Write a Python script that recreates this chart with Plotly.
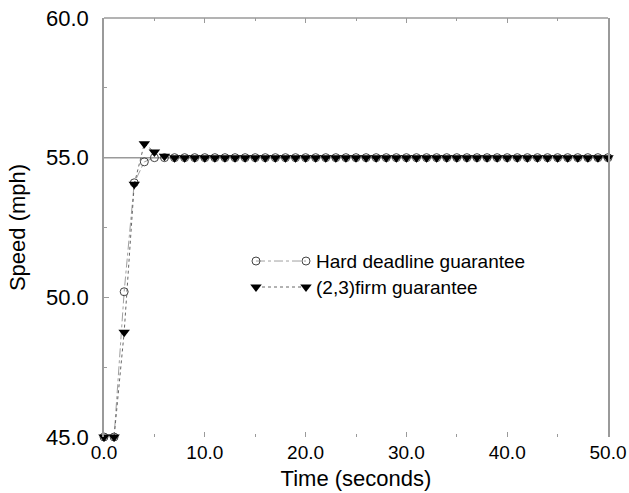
import plotly.graph_objects as go

# ---- data ----
time_s = [0, 1, 2, 3, 4, 5, 6, 7, 8, 9, 10, 11, 12, 13, 14, 15, 16, 17, 18, 19, 20,
          21, 22, 23, 24, 25, 26, 27, 28, 29, 30, 31, 32, 33, 34, 35, 36, 37, 38, 39, 40,
          41, 42, 43, 44, 45, 46, 47, 48, 49, 50]
hard_deadline = [45.0, 45.0, 50.2, 54.1, 54.85, 55.0, 55.0, 55.0, 55.0, 55.0, 55.0,
                 55.0, 55.0, 55.0, 55.0, 55.0, 55.0, 55.0, 55.0, 55.0, 55.0,
                 55.0, 55.0, 55.0, 55.0, 55.0, 55.0, 55.0, 55.0, 55.0, 55.0,
                 55.0, 55.0, 55.0, 55.0, 55.0, 55.0, 55.0, 55.0, 55.0, 55.0,
                 55.0, 55.0, 55.0, 55.0, 55.0, 55.0, 55.0, 55.0, 55.0, 55.0]
firm_23 = [45.0, 45.0, 48.75, 54.05, 55.5, 55.2, 55.05, 55.0, 55.0, 55.0, 55.0,
           55.0, 55.0, 55.0, 55.0, 55.0, 55.0, 55.0, 55.0, 55.0, 55.0,
           55.0, 55.0, 55.0, 55.0, 55.0, 55.0, 55.0, 55.0, 55.0, 55.0,
           55.0, 55.0, 55.0, 55.0, 55.0, 55.0, 55.0, 55.0, 55.0, 55.0,
           55.0, 55.0, 55.0, 55.0, 55.0, 55.0, 55.0, 55.0, 55.0, 55.0]
series_names = ["Hard deadline guarantee", "(2,3)firm guarantee"]
x_ticks = [0, 10, 20, 30, 40, 50]
y_ticks = [45, 50, 55, 60]
reference_speed = 55.0

FONT = "Liberation Sans, Arial, Helvetica, sans-serif"
AX = "#9a9a9a"

circle_marker = dict(symbol="circle-open", size=8, color="#444444", line=dict(width=1, color="#444444"))
tri_marker = dict(symbol="triangle-down", size=10, color="black", line=dict(width=0))
hard_line = dict(color="#a0a0a0", width=1, dash="dashdot")
firm_line = dict(color="#666666", width=1, dash="dot")

fig = go.Figure()
fig.add_trace(go.Scatter(x=time_s, y=hard_deadline, mode="lines+markers", name=series_names[0],
                         line=hard_line, marker=circle_marker, cliponaxis=False, showlegend=False))
fig.add_trace(go.Scatter(x=time_s, y=firm_23, mode="lines+markers", name=series_names[1],
                         line=firm_line, marker=tri_marker, cliponaxis=False, showlegend=False))

# custom legend drawn on an overlay axis spanning the plot area (0..1)
leg_x = [0.3016, 0.4008]
leg_y = [0.42, 0.358]
leg_text_x = 0.417
fig.add_trace(go.Scatter(x=leg_x, y=[leg_y[0]] * 2, xaxis="x2", yaxis="y2", mode="lines+markers",
                         line=hard_line, marker=circle_marker, showlegend=False, hoverinfo="skip"))
fig.add_trace(go.Scatter(x=leg_x, y=[leg_y[1]] * 2, xaxis="x2", yaxis="y2", mode="lines+markers",
                         line=firm_line, marker=tri_marker, showlegend=False, hoverinfo="skip"))
for name, yy in zip(series_names, leg_y):
    fig.add_annotation(x=leg_text_x, y=yy, xref="x2", yref="y2", text=name, showarrow=False,
                       xanchor="left", yanchor="middle", font=dict(family=FONT, size=19, color="black"))

# reference line at 55 and top frame line
fig.add_shape(type="line", xref="paper", yref="y", x0=0, x1=1, y0=reference_speed, y1=reference_speed,
              line=dict(color=AX, width=1.5), layer="below")
fig.add_shape(type="line", xref="paper", yref="paper", x0=0, x1=1, y0=1, y1=1,
              line=dict(color=AX, width=1.5))

fig.update_layout(
    width=629, height=493,
    margin=dict(l=104, r=21, t=18, b=56, autoexpand=False),
    paper_bgcolor="white", plot_bgcolor="white",
    font=dict(family=FONT, size=19, color="black"),
    xaxis=dict(range=[0, 50], tickvals=x_ticks, ticktext=[f"{v:.1f}" for v in x_ticks],
               showgrid=False, zeroline=False, showline=False, mirror="ticks",
               ticks="inside", ticklen=5, tickcolor=AX, tickwidth=1,
               tickfont=dict(size=19), ticklabelstandoff=2,
               minor=dict(dtick=5, ticks="inside", ticklen=3, tickcolor=AX, showgrid=False),
               title=dict(text="Time (seconds)", font=dict(size=22), standoff=8)),
    yaxis=dict(range=[45, 60], tickvals=y_ticks, ticktext=[f"{v:.1f}" for v in y_ticks],
               showgrid=False, zeroline=False, showline=True, linecolor=AX, linewidth=1.5, mirror=True,
               ticks="inside", ticklen=5, tickcolor=AX, tickwidth=1,
               tickfont=dict(size=22), ticklabelstandoff=9,
               minor=dict(dtick=2.5, ticks="inside", ticklen=3, tickcolor=AX, showgrid=False),
               title=dict(text="Speed (mph)", font=dict(size=22), standoff=14)),
    xaxis2=dict(overlaying="x", range=[0, 1], visible=False),
    yaxis2=dict(overlaying="y", range=[0, 1], visible=False),
)

fig.write_html("out.html", config={"displayModeBar": False},
               post_script="document.body.style.margin='0';")
